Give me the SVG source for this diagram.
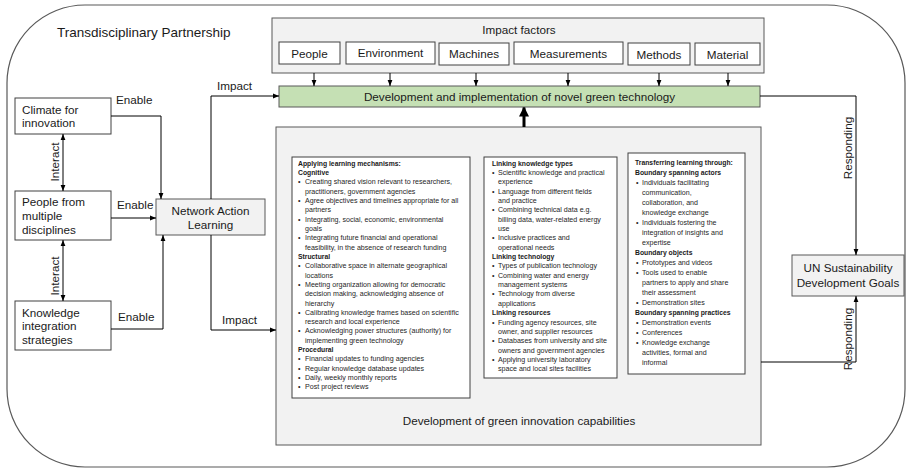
<svg xmlns="http://www.w3.org/2000/svg" width="911" height="472" viewBox="0 0 911 472">
<style>
.lbl{font-family:"Liberation Sans",Arial,sans-serif;font-size:11.7px;fill:#1a1a1a}
.ttl{font-family:"Liberation Sans",Arial,sans-serif;font-size:13.5px;fill:#1a1a1a}
.box{fill:#fff;stroke:#404040;stroke-width:1}
.gbox{fill:#f2f2f2;stroke:#595959;stroke-width:1}
.tb{fill:#fff;stroke:#404040;stroke-width:1}
.ln{fill:none;stroke:#000;stroke-width:1}
.t{font-family:"Liberation Sans",Arial,sans-serif;font-size:7.1px;fill:#262626}
.h{font-family:"Liberation Sans",Arial,sans-serif;font-size:6.8px;font-weight:bold;fill:#1a1a1a}
.mid{text-anchor:middle}
</style>
<defs>
<marker id="ah" viewBox="0 0 10 10" refX="10" refY="5" markerWidth="6" markerHeight="6" markerUnits="userSpaceOnUse" orient="auto-start-reverse"><path d="M0,1 L10,5 L0,9 z" fill="#000"/></marker>
<marker id="ahb" viewBox="0 0 10 10" refX="9" refY="5" markerWidth="10" markerHeight="10" markerUnits="userSpaceOnUse" orient="auto"><path d="M0,0 L10,5 L0,10 z" fill="#000"/></marker>
</defs>
<rect width="911" height="472" fill="#fff"/>
<g id="frame">
<rect x="7" y="5" width="898" height="462" rx="78" ry="78" fill="none" stroke="#595959" stroke-width="1.2"/>
<text class="ttl" x="57" y="37">Transdisciplinary Partnership</text>
</g>

<g id="impact-factors">
<rect class="gbox" x="272" y="18" width="492" height="55"/>
<text class="lbl mid" x="519" y="33.5">Impact factors</text>
</g>
<g id="f-people"><rect class="box" x="279" y="42" width="61" height="22"/><text class="lbl mid" x="309.5" y="57.5">People</text></g>
<g id="f-environment"><rect class="box" x="346" y="42" width="89" height="22"/><text class="lbl mid" x="390.5" y="57">Environment</text></g>
<g id="f-machines"><rect class="box" x="439" y="43" width="70" height="22"/><text class="lbl mid" x="474" y="58">Machines</text></g>
<g id="f-measurements"><rect class="box" x="514" y="42" width="109" height="22"/><text class="lbl mid" x="568.5" y="57.5">Measurements</text></g>
<g id="f-methods"><rect class="box" x="628" y="43" width="62" height="22"/><text class="lbl mid" x="659" y="58.5">Methods</text></g>
<g id="f-material"><rect class="box" x="695" y="43" width="65" height="22"/><text class="lbl mid" x="727.5" y="58.5">Material</text></g>

<g id="green-tech">
<rect x="279" y="86" width="481" height="21" fill="#c5e0b4" stroke="#595959" stroke-width="1"/>
<text class="lbl mid" x="519.5" y="100.5">Development and implementation of novel green technology</text>
</g>

<g id="climate"><rect class="box" x="15" y="98" width="96" height="36"/>
<text class="lbl" x="22" y="113.5">Climate for</text><text class="lbl" x="22" y="127">innovation</text></g>
<g id="people"><rect class="box" x="15" y="191" width="96" height="49"/>
<text class="lbl" x="22" y="206">People from</text><text class="lbl" x="22" y="219.5">multiple</text><text class="lbl" x="22" y="234">disciplines</text></g>
<g id="knowledge"><rect class="box" x="15" y="301" width="96" height="49"/>
<text class="lbl" x="22" y="316.5">Knowledge</text><text class="lbl" x="22" y="330">integration</text><text class="lbl" x="22" y="344">strategies</text></g>
<g id="nal"><rect class="gbox" x="156" y="199" width="109" height="36" stroke="#404040"/>
<text class="lbl mid" x="210.5" y="215">Network Action</text><text class="lbl mid" x="210.5" y="228.5">Learning</text></g>

<g id="un"><rect class="gbox" x="792" y="255" width="112" height="41" stroke="#404040"/>
<text class="lbl mid" x="848" y="272">UN Sustainability</text><text class="lbl mid" x="848" y="287">Development Goals</text></g>

<g id="capabilities">
<rect class="gbox" x="276" y="127" width="485" height="318"/>
<text class="lbl mid" x="519" y="425">Development of green innovation capabilities</text>
</g>

<g id="learning-mechanisms">
<rect class="tb" x="292" y="157" width="178" height="241"/>
<text class="h" x="298" y="165.5">Applying learning mechanisms:</text>
<text class="h" x="298" y="174.8">Cognitive</text>
<text class="t" x="298" y="184.2">•</text><text class="t" x="305" y="184.2">Creating  shared vision relevant to researchers,</text>
<text class="t" x="305" y="193.5">practitioners, government agencies</text>
<text class="t" x="298" y="202.8">•</text><text class="t" x="305" y="202.8">Agree objectives and timelines appropriate for all</text>
<text class="t" x="305" y="212.2">partners</text>
<text class="t" x="298" y="221.5">•</text><text class="t" x="305" y="221.5">Integrating, social, economic, environmental</text>
<text class="t" x="305" y="230.8">goals</text>
<text class="t" x="298" y="240.1">•</text><text class="t" x="305" y="240.1">Integrating future financial and operational</text>
<text class="t" x="305" y="249.5">feasibility, in the absence of research funding</text>
<text class="h" x="298" y="258.8">Structural</text>
<text class="t" x="298" y="268.1">•</text><text class="t" x="305" y="268.1">Collaborative space in alternate geographical</text>
<text class="t" x="305" y="277.5">locations</text>
<text class="t" x="298" y="286.8">•</text><text class="t" x="305" y="286.8">Meeting organization allowing for democratic</text>
<text class="t" x="305" y="296.1">decision making, acknowledging absence of</text>
<text class="t" x="305" y="305.5">hierarchy</text>
<text class="t" x="298" y="314.8">•</text><text class="t" x="305" y="314.8">Calibrating knowledge frames based on scientific</text>
<text class="t" x="305" y="324.1">research and local experience</text>
<text class="t" x="298" y="333.4">•</text><text class="t" x="305" y="333.4">Acknowledging  power structures (authority) for</text>
<text class="t" x="305" y="342.8">implementing green technology</text>
<text class="h" x="298" y="352.1">Procedural</text>
<text class="t" x="298" y="361.4">•</text><text class="t" x="305" y="361.4">Financial updates to funding agencies</text>
<text class="t" x="298" y="370.8">•</text><text class="t" x="305" y="370.8">Regular knowledge database updates</text>
<text class="t" x="298" y="380.1">•</text><text class="t" x="305" y="380.1">Daily, weekly monthly reports</text>
<text class="t" x="298" y="389.4">•</text><text class="t" x="305" y="389.4">Post project reviews</text>
</g>

<g id="linking-knowledge">
<rect class="tb" x="484" y="157" width="133" height="221"/>
<text class="h" x="492" y="165.5">Linking knowledge types</text>
<text class="t" x="492" y="174.9">•</text><text class="t" x="498" y="174.9">Scientific knowledge and practical</text>
<text class="t" x="498" y="184.2">experience</text>
<text class="t" x="492" y="193.6">•</text><text class="t" x="498" y="193.6">Language  from different fields</text>
<text class="t" x="498" y="202.9">and practice</text>
<text class="t" x="492" y="212.3">•</text><text class="t" x="498" y="212.3">Combining technical data e.g.</text>
<text class="t" x="498" y="221.6">billing data, water-related energy</text>
<text class="t" x="498" y="231">use</text>
<text class="t" x="492" y="240.3">•</text><text class="t" x="498" y="240.3">Inclusive practices and</text>
<text class="t" x="498" y="249.7">operational needs</text>
<text class="h" x="492" y="259">Linking technology</text>
<text class="t" x="492" y="268.4">•</text><text class="t" x="498" y="268.4">Types of publication technology</text>
<text class="t" x="492" y="277.7">•</text><text class="t" x="498" y="277.7">Combining water and energy</text>
<text class="t" x="498" y="287.1">management systems</text>
<text class="t" x="492" y="296.4">•</text><text class="t" x="498" y="296.4">Technology from diverse</text>
<text class="t" x="498" y="305.8">applications</text>
<text class="h" x="492" y="315.1">Linking resources</text>
<text class="t" x="492" y="324.5">•</text><text class="t" x="498" y="324.5">Funding agency resources,  site</text>
<text class="t" x="498" y="333.8">owner, and supplier resources</text>
<text class="t" x="492" y="343.2">•</text><text class="t" x="498" y="343.2">Databases from university and site</text>
<text class="t" x="498" y="352.5">owners and government agencies</text>
<text class="t" x="492" y="361.9">•</text><text class="t" x="498" y="361.9">Applying university laboratory</text>
<text class="t" x="498" y="371.2">space and local sites facilities</text>
</g>

<g id="transferring-learning">
<rect class="tb" x="628" y="153" width="117" height="221"/>
<text class="h" x="635" y="164.5">Transferring learning through:</text>
<text class="h" x="635" y="174.5">Boundary spanning actors</text>
<text class="t" x="636" y="184.5">•</text><text class="t" x="642" y="184.5">Individuals facilitating</text>
<text class="t" x="642" y="194.5">communication,</text>
<text class="t" x="642" y="204.5">collaboration, and</text>
<text class="t" x="642" y="214.5">knowledge exchange</text>
<text class="t" x="636" y="224.5">•</text><text class="t" x="642" y="224.5">Individuals fostering the</text>
<text class="t" x="642" y="234.5">integration of insights and</text>
<text class="t" x="642" y="244.5">expertise</text>
<text class="h" x="635" y="254.5">Boundary objects</text>
<text class="t" x="636" y="264.5">•</text><text class="t" x="642" y="264.5">Prototypes and videos</text>
<text class="t" x="636" y="274.5">•</text><text class="t" x="642" y="274.5">Tools used to enable</text>
<text class="t" x="642" y="284.5">partners to apply and share</text>
<text class="t" x="642" y="294.5">their assessment</text>
<text class="t" x="636" y="304.5">•</text><text class="t" x="642" y="304.5">Demonstration sites</text>
<text class="h" x="635" y="314.5">Boundary spanning practices</text>
<text class="t" x="636" y="324.5">•</text><text class="t" x="642" y="324.5">Demonstration events</text>
<text class="t" x="636" y="334.5">•</text><text class="t" x="642" y="334.5">Conferences</text>
<text class="t" x="636" y="344.5">•</text><text class="t" x="642" y="344.5">Knowledge exchange</text>
<text class="t" x="642" y="354.5">activities, formal and</text>
<text class="t" x="642" y="364.5">informal</text>
</g>

<g id="connectors">
<line class="ln" x1="314" y1="73" x2="314" y2="86" marker-end="url(#ah)"/>
<line class="ln" x1="390" y1="73" x2="390" y2="86" marker-end="url(#ah)"/>
<line class="ln" x1="476" y1="73" x2="476" y2="86" marker-end="url(#ah)"/>
<line class="ln" x1="568" y1="73" x2="568" y2="86" marker-end="url(#ah)"/>
<line class="ln" x1="659" y1="73" x2="659" y2="86" marker-end="url(#ah)"/>
<line class="ln" x1="728" y1="73" x2="728" y2="86" marker-end="url(#ah)"/>
<line x1="524" y1="127" x2="524" y2="107.5" stroke="#000" stroke-width="3" marker-end="url(#ahb)"/>
<line class="ln" x1="63" y1="134" x2="63" y2="191" marker-start="url(#ah)" marker-end="url(#ah)"/>
<line class="ln" x1="63" y1="240" x2="63" y2="301" marker-start="url(#ah)" marker-end="url(#ah)"/>
<polyline class="ln" points="111,116 161,116 161,199" marker-end="url(#ah)"/>
<line class="ln" x1="111" y1="218" x2="156" y2="218" marker-end="url(#ah)"/>
<polyline class="ln" points="111,329 163,329 163,235" marker-end="url(#ah)"/>
<polyline class="ln" points="211,199 211,96 279,96" marker-end="url(#ah)"/>
<polyline class="ln" points="211,235 211,330 276,330" marker-end="url(#ah)"/>
<polyline class="ln" points="760,96 856,96 856,255" marker-end="url(#ah)"/>
<polyline class="ln" points="761,362 856,362 856,296" marker-end="url(#ah)"/>
<text class="lbl" x="116" y="104">Enable</text>
<text class="lbl" x="117" y="208.5">Enable</text>
<text class="lbl" x="118" y="321">Enable</text>
<text class="lbl" x="217" y="90">Impact</text>
<text class="lbl" x="222" y="323.5">Impact</text>
<text class="lbl mid" transform="translate(58.5,162) rotate(-90)">Interact</text>
<text class="lbl mid" transform="translate(59,276) rotate(-90)">Interact</text>
<text class="lbl mid" transform="translate(852,148) rotate(-90)">Responding</text>
<text class="lbl mid" transform="translate(852,339) rotate(-90)">Responding</text>
</g>
</svg>
